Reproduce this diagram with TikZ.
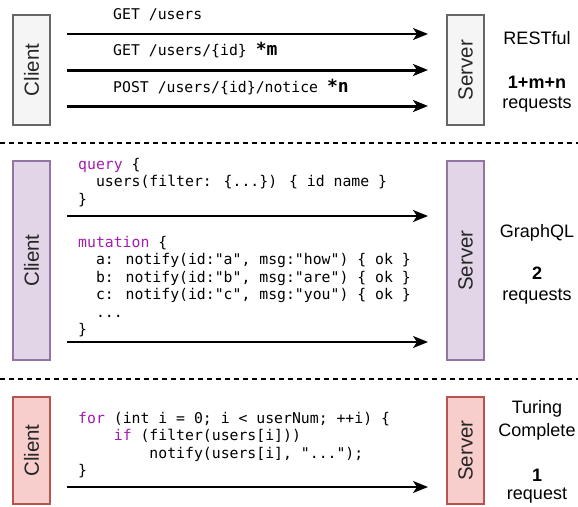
\documentclass[tikz,border=0pt]{standalone}
\usepackage{fontspec}
\setmainfont{Liberation Sans}
\newfontfamily\codefont{DejaVu Sans Mono}
\usetikzlibrary{arrows.meta}
\definecolor{kw}{HTML}{A21CAF}
\definecolor{grayfill}{HTML}{F5F5F5}
\definecolor{grayline}{HTML}{666666}
\definecolor{purplefill}{HTML}{E1D5E7}
\definecolor{purpleline}{HTML}{9673A6}
\definecolor{redfill}{HTML}{F8CECC}
\definecolor{redline}{HTML}{B85450}
\newcommand{\kw}[1]{\textcolor{kw}{#1}}
\newcommand{\mult}[1]{{\bfseries\fontsize{18}{20}\selectfont #1}}
\begin{document}
\begin{tikzpicture}[x=1pt,y=-1pt,
  party/.style={draw, line width=1.5pt, rotate=90, inner sep=0pt,
    minimum height=37pt, font=\fontsize{20.5}{24}\selectfont, text=black!85},
  restbox/.style={party, fill=grayfill, draw=grayline},
  gqlbox/.style={party, fill=purplefill, draw=purpleline},
  tcbox/.style={party, fill=redfill, draw=redline},
  code/.style={anchor=base west, inner sep=0pt,
    font=\codefont\fontsize{14.8}{17.5}\selectfont},
  note/.style={anchor=base, inner sep=0pt, font=\fontsize{18}{21}\selectfont},
  count/.style={note, font=\bfseries\fontsize{18}{21}\selectfont},
  msg/.style={-{Stealth[length=15pt,width=12pt,inset=4pt]}, line width=1.8pt},
  bulk/.style={msg, line width=3pt},
  divider/.style={dash pattern=on 5pt off 4pt, line width=1.2pt}
]
\useasboundingbox (0,0) rectangle (578,506);

% section dividers
\draw[divider] (0,143) -- (578,143);
\draw[divider] (0,379) -- (578,379);

% ---------- RESTful ----------
\node[restbox, minimum width=110pt] (c1) at (31.5,70) {Client};
\node[restbox, minimum width=110pt] (s1) at (465.5,70) {Server};
\node[code] (g1) at (113,19) {GET /users};
\node[code] (g2) at (113,55) {GET /users/\{id\} \mult{*m}};
\node[code] (g3) at (113,92) {POST /users/\{id\}/notice \mult{*n}};
\coordinate (r1a) at (67,34);  \coordinate (r1b) at (428,34);
\coordinate (r2a) at (67,70);  \coordinate (r2b) at (428,70);
\coordinate (r3a) at (67,106); \coordinate (r3b) at (428,106);
\draw[msg]  (r1a) -- (r1b);
\draw[bulk] (r2a) -- (r2b);
\draw[bulk] (r3a) -- (r3b);
\node[note]  (n1a) at (537,44.5) {RESTful};
\node[count] (n1b) at (537,88) {1+m+n};
\node[note]  (n1c) at (537,108) {requests};

% ---------- GraphQL ----------
\node[gqlbox, minimum width=199pt] (c2) at (31.5,260.5) {Client};
\node[gqlbox, minimum width=199pt] (s2) at (465.5,260.5) {Server};
\node[code] (q1) at (78,169)   {\kw{query} \{};
\node[code] (q2) at (78,186.5) {\hphantom{xx}users(filter: \{...\}) \{ id name \}};
\node[code] (q3) at (78,204)   {\}};
\node[code] (m1) at (78,247)   {\kw{mutation} \{};
\node[code] (m2) at (78,264.5) {\hphantom{xx}a: notify(id:"a", msg:"how") \{ ok \}};
\node[code] (m3) at (78,282)   {\hphantom{xx}b: notify(id:"b", msg:"are") \{ ok \}};
\node[code] (m4) at (78,299.5) {\hphantom{xx}c: notify(id:"c", msg:"you") \{ ok \}};
\node[code] (m5) at (78,317)   {\hphantom{xx}...};
\node[code] (m6) at (78,334.5) {\}};
\coordinate (g1a) at (67,216); \coordinate (g1b) at (428,216);
\coordinate (g2a) at (67,342); \coordinate (g2b) at (428,342);
\draw[msg] (g1a) -- (g1b);
\draw[msg] (g2a) -- (g2b);
\node[note]  (n2a) at (537,237.5) {GraphQL};
\node[count] (n2b) at (537,279.5) {2};
\node[note]  (n2c) at (537,300) {requests};

% ---------- Turing complete ----------
\node[tcbox, minimum width=107pt] (c3) at (31.5,450.5) {Client};
\node[tcbox, minimum width=107pt] (s3) at (465.5,450.5) {Server};
\node[code] (f1) at (78,423)   {\kw{for} (int i = 0; i < userNum; ++i) \{};
\node[code] (f2) at (78,440.5) {\hphantom{xxxx}\kw{if} (filter(users[i]))};
\node[code] (f3) at (78,458)   {\hphantom{xxxxxxxx}notify(users[i], "...");};
\node[code] (f4) at (78,475.5) {\}};
\coordinate (t1a) at (67,487); \coordinate (t1b) at (428,487);
\draw[msg] (t1a) -- (t1b);
\node[note]  (n3a) at (537,413.5) {Turing};
\node[note]  (n3b) at (537,436.5) {Complete};
\node[count] (n3c) at (537,481) {1};
\node[note]  (n3d) at (537,499) {request};
\end{tikzpicture}
\end{document}
